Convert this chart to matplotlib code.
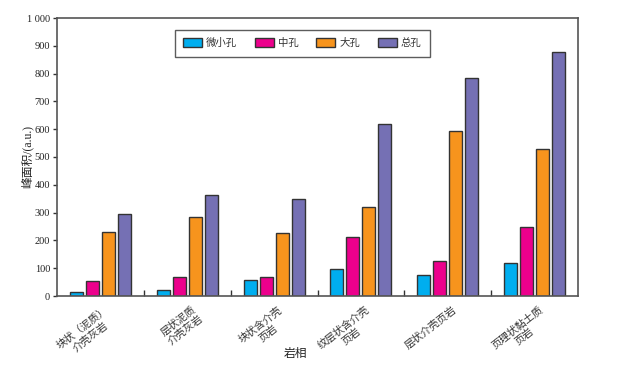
import numpy as np
import matplotlib
matplotlib.use("Agg")
import matplotlib.pyplot as plt
import matplotlib.transforms as mtransforms
from matplotlib.ticker import FuncFormatter

plt.rcParams['font.family'] = ['Liberation Serif', 'Noto Sans CJK SC', 'DejaVu Sans']

# Data
facies = ["块状（泥质）\n介壳灰岩", "层状泥质\n介壳灰岩", "块状含介壳\n页岩",
          "纹层状含介壳\n页岩", "层状介壳页岩", "页理状黏土质\n页岩"]
series_names = ["微小孔", "中孔", "大孔", "总孔"]
micro = [15, 22, 58, 97, 74, 120]
meso = [55, 68, 67, 213, 127, 247]
macro = [229, 283, 227, 321, 595, 528]
total = [296, 362, 350, 618, 785, 879]
colors = ["#00AEEF", "#EC008C", "#F7941D", "#7570B4"]

fig = plt.figure(figsize=(6.2, 3.66), dpi=100)
ax = fig.add_axes([57/620, 70/366, 521/620, 278/366])

x = np.arange(len(facies))
pitch = 0.184
width = 0.15
for i, (vals, name, c) in enumerate(zip([micro, meso, macro, total], series_names, colors)):
    ax.bar(x + (i - 1.5) * pitch, vals, width=width, color=c, edgecolor="#333333",
           linewidth=1.0, label=name)

ax.set_xlim(-0.5, len(facies) - 0.5)
ax.set_ylim(0, 1000)
ax.set_yticks(np.arange(0, 1001, 100))
ax.yaxis.set_major_formatter(FuncFormatter(lambda v, p: f"{int(v):,}".replace(",", " ")))
ax.tick_params(axis='y', direction='out', length=3, width=1, labelsize=7.5, colors="#333333",
               labelcolor="#222222", pad=2)

ax.set_xticks(x)
ax.set_xticks(np.arange(0.5, len(facies) - 0.5, 1), minor=True)
ax.tick_params(axis='x', which='major', length=0, pad=6)
ax.tick_params(axis='x', which='minor', direction='in', length=4, width=1, colors="#333333")
ax.set_xticklabels(facies, rotation=38, ha='right', rotation_mode='anchor',
                   fontsize=7.5, linespacing=1.15, color="#333333", multialignment='center')
shift = mtransforms.ScaledTranslation(4/100, 0, fig.dpi_scale_trans)
for lbl in ax.get_xticklabels():
    lbl.set_transform(lbl.get_transform() + shift)

for s in ax.spines.values():
    s.set_color("#555555")
    s.set_linewidth(1.2)

ax.set_ylabel("峰面积/(a.u.)", fontsize=8.5, color="#222222")
ax.yaxis.set_label_coords(-0.045, 0.5)
ax.set_xlabel("岩相", fontsize=8.5, color="#222222")
ax.xaxis.set_label_coords(0.457, -0.185)

leg = ax.legend(loc='upper left', bbox_to_anchor=(0.2265, 0.957), ncol=4, fontsize=7.5,
                frameon=True, fancybox=False, edgecolor="#333333", borderaxespad=0,
                handlelength=1.8, handleheight=0.95, columnspacing=1.7, handletextpad=0.4,
                borderpad=0.8)
leg.get_frame().set_linewidth(1.0)
for t in leg.get_texts():
    t.set_color("#333333")

fig.savefig("out.png", dpi=100)
